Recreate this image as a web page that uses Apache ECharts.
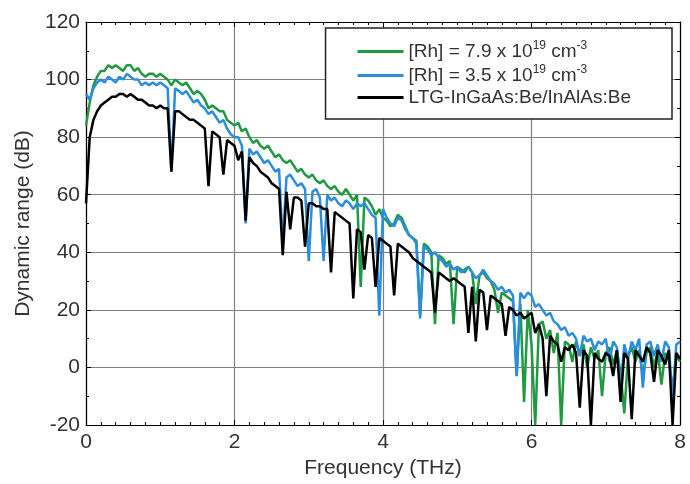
<!DOCTYPE html>
<html>
<head>
<meta charset="UTF-8">
<title></title>
<script src="https://cdn.jsdelivr.net/npm/echarts@6/dist/echarts.min.js"></script>
</head>
<body style="margin:0;background:#fff;">
<div id="main" style="width:690px;height:484px;"></div>
<script type="text/javascript">
// frequency grid: 0 .. 8 THz, step 0.05
var step = 0.05;
var seriesNames = ['Rh79', 'Rh35', 'LTG'];

var rh79 = [84,92,98,101,103,103,105,104,105,104,103,105,105,103,104,102,101,102,102,101,
  102,101,100,98,100,99,98,99,97,95,96,95,93,90,91,90,89,89,86,85,
  84,85,82,83,80,78,79,77,76,77,75,73,74,72,71,72,70,68,69,67,
  66,67,65,64,65,63,62,63,61,60,62,60,58,60,28,59,58,56,53,55,
  52,51,49,50,53,52,49,46,45,44,18,43,42,40,15,39,38,36,37,15,
  35,34,33,35,33,22,32,33,31,30,27,19,26,25,24,23,-3,22,-12,20,
  8,-20,15,16,10,13,5,12,-20,9,8,2,9,4,8,0,7,3,6,-10,
  5,7,1,6,-2,-16,4,7,2,6,-3,5,7,0,6,-6,5,3,-8,4,2];

var rh35 = [95,93,97,99,100,99,101,100,99,101,100,102,101,100,100,98,99,98,99,98,
  99,98,97,68,97,96,95,96,94,92,93,91,90,88,89,87,85,86,83,81,
  80,80,77,50,76,74,75,73,71,72,70,68,69,43,66,67,65,63,64,62,
  37,61,62,59,37,60,58,59,57,56,58,57,55,57,56,57,55,53,52,18,
  55,52,50,49,52,51,48,46,45,43,17,42,41,39,40,38,37,35,36,34,
  35,33,34,35,33,31,32,34,32,30,29,27,28,26,27,25,-3,26,24,26,
  25,21,22,20,18,19,16,15,13,14,11,12,10,4,11,9,10,6,9,8,
  10,2,9,7,-7,8,3,9,6,10,-7,8,9,4,8,2,9,7,-11,8,9];

var ltg = [57,80,86,89,91,92,93,94,94,95,95,94,95,94,93,93,92,91,91,90,
  91,90,90,68,89,89,88,87,86,86,85,84,83,63,82,81,80,67,79,78,
  77,72,75,51,73,71,70,68,67,66,64,63,62,39,61,48,59,59,58,42,
  57,57,56,56,55,55,33,54,53,52,51,50,24,48,47,34,46,45,28,45,
  44,43,42,25,43,42,41,40,38,37,36,35,34,33,19,33,32,31,30,31,
  30,29,28,12,28,9,27,26,13,25,24,23,22,11,21,20,18,19,17,18,
  19,12,15,10,-10,11,9,8,2,7,6,8,5,-14,6,4,-20,5,3,2,
  5,4,-3,6,-12,5,3,-18,6,4,2,7,5,-5,6,4,1,6,-20,5,3];

var legendLabels = [
  '{n|[Rh] = 7.9 x 10}{s|19}{n| cm}{s|-3}',
  '{n|[Rh] = 3.5 x 10}{s|19}{n| cm}{s|-3}',
  '{n|LTG-InGaAs:Be/InAlAs:Be}'
];
var colors = ['#1f9a40', '#2a8de0', '#000000'];

function pairs(arr) {
  var out = [];
  for (var i = 0; i < arr.length; i++) {
    out.push([+(i * step).toFixed(2), arr[i]]);
  }
  return out;
}

var font = 'Liberation Sans, Arial, sans-serif';
var tickOpts = {show: true, inside: true, length: 5, lineStyle: {color: '#000'}};

var option = {
  animation: false,
  textStyle: {fontFamily: font},
  grid: {left: 86, right: 10, top: 22, bottom: 59},
  legend: {
    orient: 'vertical',
    right: 18,
    top: 28,
    padding: [12, 41, 12, 32],
    itemGap: 3,
    itemWidth: 46,
    itemHeight: 3,
    icon: 'rect',
    backgroundColor: '#fff',
    borderColor: '#222',
    borderWidth: 1.5,
    data: seriesNames,
    formatter: function (name) {
      return legendLabels[seriesNames.indexOf(name)];
    },
    textStyle: {
      rich: {
        n: {fontSize: 19, color: '#333', fontFamily: font, lineHeight: 23},
        s: {fontSize: 12, color: '#333', fontFamily: font, lineHeight: 23, verticalAlign: 'top', padding: [0, 0, 8, 0]}
      }
    }
  },
  xAxis: [{
    type: 'value', min: 0, max: 8, interval: 2,
    name: 'Frequency (THz)', nameLocation: 'middle', nameGap: 31,
    nameTextStyle: {fontSize: 21, color: '#333'},
    axisLine: {show: true, onZero: false, lineStyle: {color: '#000', width: 1.2}},
    axisTick: tickOpts,
    minorTick: {show: true, splitNumber: 10, length: 3, lineStyle: {color: '#000'}},
    axisLabel: {fontSize: 21, color: '#333', margin: 7},
    splitLine: {show: true, lineStyle: {color: '#808080', width: 1.2}}
  }, {
    type: 'value', min: 0, max: 8, interval: 2, position: 'top',
    axisLine: {show: true, onZero: false, lineStyle: {color: '#000', width: 1.2}},
    axisTick: tickOpts,
    minorTick: {show: true, splitNumber: 10, length: 3, lineStyle: {color: '#000'}},
    axisLabel: {show: false},
    splitLine: {show: false}
  }],
  yAxis: [{
    type: 'value', min: -20, max: 120, interval: 20,
    name: 'Dynamic range (dB)', nameLocation: 'middle', nameGap: 48,
    nameTextStyle: {fontSize: 21, color: '#333'},
    axisLine: {show: true, onZero: false, lineStyle: {color: '#000', width: 1.2}},
    axisTick: tickOpts,
    minorTick: {show: true, splitNumber: 2, length: 3, lineStyle: {color: '#000'}},
    axisLabel: {fontSize: 21, color: '#333', margin: 6},
    splitLine: {show: true, lineStyle: {color: '#808080', width: 1.2}}
  }, {
    type: 'value', min: -20, max: 120, interval: 20, position: 'right',
    axisLine: {show: true, onZero: false, lineStyle: {color: '#000', width: 1.2}},
    axisTick: tickOpts,
    minorTick: {show: true, splitNumber: 2, length: 3, lineStyle: {color: '#000'}},
    axisLabel: {show: false},
    splitLine: {show: false}
  }],
  series: [
    {name: seriesNames[0], type: 'line', data: pairs(rh79), symbol: 'none', color: colors[0], lineStyle: {width: 2.5}},
    {name: seriesNames[1], type: 'line', data: pairs(rh35), symbol: 'none', color: colors[1], lineStyle: {width: 2.5}},
    {name: seriesNames[2], type: 'line', data: pairs(ltg), symbol: 'none', color: colors[2], lineStyle: {width: 2.5}}
  ]
};

echarts.init(document.getElementById('main')).setOption(option);
</script>
</body>
</html>
